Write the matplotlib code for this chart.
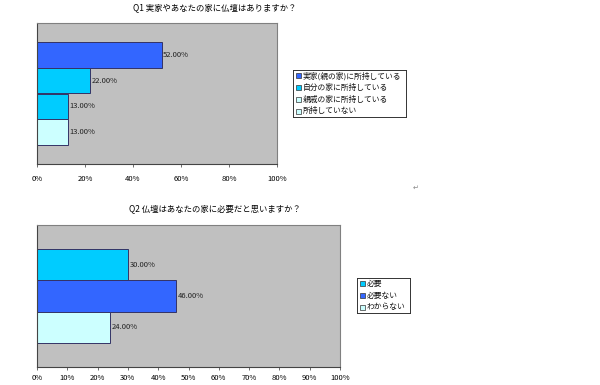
import matplotlib.pyplot as plt
import numpy as np

plt.rcParams['font.family'] = ['Noto Sans CJK JP', 'DejaVu Sans']

# Q1 data
q1_title = "Q1 実家やあなたの家に仏壇はありますか？"
q1_labels = ["実家(親の家)に所持している", "自分の家に所持している", "親戚の家に所持している", "所持していない"]
q1_values = [52.0, 22.0, 13.0, 13.0]
q1_bar_colors = ["#3366FF", "#00CCFF", "#00CCFF", "#CCFFFF"]
q1_legend_colors = ["#3366FF", "#00CCFF", "#CCFFFF", "#CCFFFF"]
q1_ticks = [0, 20, 40, 60, 80, 100]

# Q2 data
q2_title = "Q2 仏壇はあなたの家に必要だと思いますか？"
q2_labels = ["必要", "必要ない", "わからない"]
q2_values = [30.0, 46.0, 24.0]
q2_colors = ["#00CCFF", "#3366FF", "#CCFFFF"]
q2_ticks = [0, 10, 20, 30, 40, 50, 60, 70, 80, 90, 100]

W, H = 600, 385
fig = plt.figure(figsize=(6, 3.85), dpi=100)


def px_axes(x0, y0, x1, y1):
    return fig.add_axes([x0 / W, 1 - y1 / H, (x1 - x0) / W, (y1 - y0) / H])


def draw_panel(ax, values, colors, ticks, margin, pad):
    n = len(values)
    y = np.arange(n)
    ax.barh(y, values, height=1.0, color=colors, edgecolor="#333366", linewidth=0.7)
    for yi, v in zip(y, values):
        ax.text(v + 0.6, yi, f"{v:.2f}%", va="center", ha="left", fontsize=5.5, color="#222222")
    ax.set_ylim(n - 0.5 + margin, -0.5 - margin)
    ax.set_xlim(0, 100)
    ax.set_facecolor("#C0C0C0")
    ax.set_xticks(ticks)
    ax.set_xticklabels([f"{t}%" for t in ticks], fontsize=5.5)
    ax.set_yticks([])
    ax.tick_params(axis="x", length=2, width=0.6, color="#555555", pad=pad)
    for s in ax.spines.values():
        s.set_color("#808080")
        s.set_linewidth(0.8)
    ax.spines["left"].set_color("#444444")
    ax.spines["bottom"].set_color("#444444")


def draw_legend(x0, y0, x1, y1, labels, colors):
    lax = px_axes(x0, y0, x1, y1)
    lax.set_xlim(x0, x1)
    lax.set_ylim(y1, y0)
    lax.set_xticks([])
    lax.set_yticks([])
    for s in lax.spines.values():
        s.set_color("#333333")
        s.set_linewidth(0.7)
    step = (y1 - y0) / len(labels)
    for i, (lab, c) in enumerate(zip(labels, colors)):
        yc = y0 + step * (i + 0.5)
        lax.add_patch(plt.Rectangle((x0 + 2.5, yc - 2.5), 5, 5, facecolor=c, edgecolor="#333333", linewidth=0.5))
        lax.text(x0 + 9.5, yc, lab, va="center", ha="left", fontsize=5.6, color="#111111")


ax1 = px_axes(37, 23, 277, 164)
draw_panel(ax1, q1_values, q1_bar_colors, q1_ticks, 0.73, 6)
fig.text(215 / W, 1 - 8 / H, q1_title, ha="center", va="center", fontsize=6)
draw_legend(293, 70, 406, 117, q1_labels, q1_legend_colors)

ax2 = px_axes(37, 225, 340, 367)
draw_panel(ax2, q2_values, q2_colors, q2_ticks, 0.77, 3)
fig.text(215 / W, 1 - 209 / H, q2_title, ha="center", va="center", fontsize=6)
draw_legend(357, 278, 410, 313, q2_labels, q2_colors)

fig.text(416 / W, 1 - 188 / H, "↵", ha="center", va="center", fontsize=5, color="#888888",
         family=["DejaVu Sans"])

fig.savefig("out.png", dpi=100)
